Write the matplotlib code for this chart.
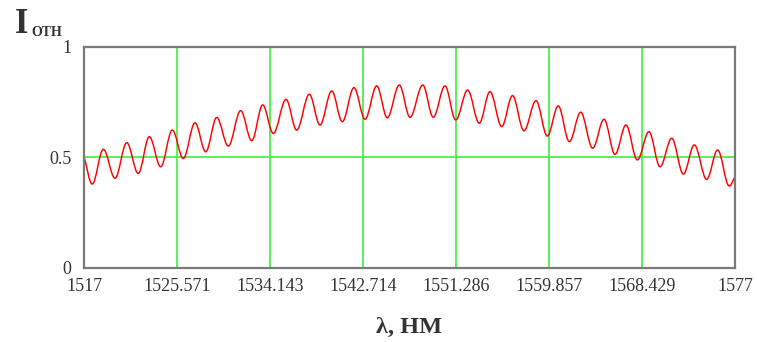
"""
Интерференционный спектр: относительная интенсивность I_отн от длины волны.
"""

import matplotlib
matplotlib.use("Agg")
import matplotlib.pyplot as plt
from matplotlib.path import Path
from matplotlib.patches import PathPatch

# x tick values / labels (nm)
x_ticks = [1517, 1525.571, 1534.143, 1542.714, 1551.286, 1559.857, 1568.429, 1577]
x_tick_labels = ["1517", "1525.571", "1534.143", "1542.714", "1551.286",
                 "1559.857", "1568.429", "1577"]
y_ticks = [0, 0.5, 1]
y_tick_labels = ["0", "0.5", "1"]

# curve: end points plus every peak / trough
wavelength = [1517.00, 1517.76, 1518.78, 1519.86, 1520.94, 1522.00, 1523.02, 1524.07,
              1525.14, 1526.15, 1527.23, 1528.22, 1529.23, 1530.30, 1531.44, 1532.46,
              1533.47, 1534.45, 1535.62, 1536.60, 1537.77, 1538.75, 1539.83, 1540.81,
              1541.88, 1542.90, 1543.98, 1544.95, 1546.06, 1547.05, 1548.22, 1549.19,
              1550.27, 1551.26, 1552.36, 1553.43, 1554.42, 1555.50, 1556.49, 1557.55,
              1558.66, 1559.70, 1560.71, 1561.73, 1562.78, 1563.88, 1564.93, 1565.94,
              1566.95, 1568.00, 1569.07, 1570.09, 1571.17, 1572.24, 1573.25, 1574.39,
              1575.40, 1576.47, 1577.00]
intensity = [0.505, 0.380, 0.537, 0.406, 0.567, 0.428, 0.594, 0.458,
             0.624, 0.496, 0.657, 0.526, 0.681, 0.552, 0.712, 0.576,
             0.738, 0.609, 0.763, 0.624, 0.786, 0.647, 0.801, 0.662,
             0.816, 0.673, 0.824, 0.680, 0.828, 0.682, 0.828, 0.682,
             0.824, 0.670, 0.805, 0.655, 0.798, 0.640, 0.780, 0.621,
             0.757, 0.597, 0.733, 0.572, 0.705, 0.542, 0.673, 0.514,
             0.647, 0.489, 0.617, 0.458, 0.587, 0.425, 0.557, 0.401,
             0.534, 0.371, 0.413]

SERIF = "Liberation Serif"
GRID_GREEN = "#3cf03c"
FRAME_GRAY = "#7a7a7a"
TEXT_COLOR = "#333333"


def smooth_path(xs, ys, k=0.36):
    """Bezier path through the extremes (flat tangents at peaks/troughs)."""
    verts = [(xs[0], ys[0])]
    codes = [Path.MOVETO]
    n = len(xs)
    for i in range(n - 1):
        x0, y0, x1, y1 = xs[i], ys[i], xs[i + 1], ys[i + 1]
        dx = x1 - x0
        if i == 0:
            c1 = (x0 + dx / 3, y0 + (y1 - y0) / 3)
        else:
            c1 = (x0 + k * dx, y0)
        if i == n - 2:
            c2 = (x1 - dx / 3, y1 - (y1 - y0) / 3)
        else:
            c2 = (x1 - k * dx, y1)
        verts += [c1, c2, (x1, y1)]
        codes += [Path.CURVE4] * 3
    return Path(verts, codes)


fig = plt.figure(figsize=(7.57, 3.42), dpi=100)
ax = fig.add_axes([84 / 757, 1 - 268 / 342, (735 - 84) / 757, (268 - 47) / 342])

ax.set_xlim(x_ticks[0], x_ticks[-1])
ax.set_ylim(0, 1)

# green grid: inner x ticks and y = 0.5
for xv in x_ticks[1:-1]:
    ax.axvline(xv, color=GRID_GREEN, lw=1.2, zorder=1)
ax.axhline(0.5, color=GRID_GREEN, lw=1.2, zorder=1)

ax.add_patch(PathPatch(smooth_path(wavelength, intensity), facecolor="none",
                       edgecolor="#ff0000", lw=1.05, zorder=3))

ax.set_xticks(x_ticks)
ax.set_xticklabels(x_tick_labels)
ax.set_yticks(y_ticks)
ax.set_yticklabels(y_tick_labels)
ax.tick_params(length=0, labelsize=13, colors=TEXT_COLOR)
ax.tick_params(axis="x", pad=7)
ax.tick_params(axis="y", pad=9)
for lab in ax.get_xticklabels() + ax.get_yticklabels():
    lab.set_family(SERIF)

for side in ["left", "right", "top", "bottom"]:
    ax.spines[side].set_color(FRAME_GRAY)
    ax.spines[side].set_linewidth(1.6)
    ax.spines[side].set_zorder(4)

# axis titles (Mathcad style, small caps)
fig.text(15 / 757, 1 - 33 / 342, "I", family=SERIF, fontsize=25,
         fontweight="bold", color=TEXT_COLOR, va="baseline")
fig.text(31 / 757, 1 - 36 / 342, "ОТН", family=SERIF, fontsize=10,
         fontweight="bold", color=TEXT_COLOR, va="baseline")
fig.text(409 / 757, 1 - 333 / 342, "λ, НМ", family=SERIF, fontsize=17.5,
         fontweight="bold", color=TEXT_COLOR, ha="center", va="baseline")

fig.savefig("out.png", dpi=100)
